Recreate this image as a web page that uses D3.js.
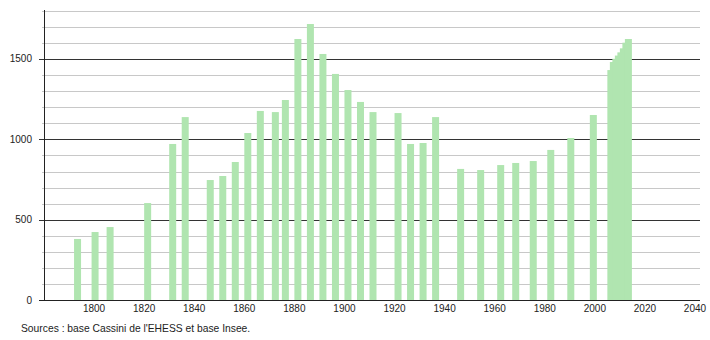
<!DOCTYPE html>
<html>
<head>
<meta charset="utf-8">
<script src="https://cdn.jsdelivr.net/npm/d3@7"></script>
<style>
  html, body { margin: 0; padding: 0; background: #fff; }
  svg { display: block; }
  text { font-family: "Liberation Sans", Arial, sans-serif; }
</style>
</head>
<body>
<svg id="chart" width="710" height="340"></svg>
<script>
const years = [1793, 1800, 1806, 1821, 1831, 1836, 1846, 1851, 1856, 1861, 1866, 1872, 1876,
  1881, 1886, 1891, 1896, 1901, 1906, 1911, 1921, 1926, 1931, 1936, 1946, 1954, 1962, 1968,
  1975, 1982, 1990, 1999, 2006, 2007, 2008, 2009, 2010, 2011, 2012, 2013];
const population = [381, 424, 455, 604, 971, 1138, 747, 772, 859, 1039, 1176, 1169, 1244,
  1623, 1716, 1530, 1406, 1306, 1232, 1169, 1163, 971, 977, 1138, 816, 809, 840, 853,
  865, 934, 1008, 1151, 1430, 1480, 1500, 1520, 1540, 1565, 1600, 1623];
const xTicks = [1800, 1820, 1840, 1860, 1880, 1900, 1920, 1940, 1960, 1980, 2000, 2020, 2040];
const yTicks = [0, 500, 1000, 1500];
const yGrid = d3.range(100, 1801, 100);
const sourceText = "Sources : base Cassini de l'EHESS et base Insee.";

const svg = d3.select("#chart");
const x = d3.scaleLinear().domain([1780, 2042]).range([44, 700]);
const y = d3.scaleLinear().domain([0, 1800]).range([300.3, 10.5]);

// grid lines
svg.append("g").selectAll("line").data(yGrid).join("line")
  .attr("x1", d => d % 500 === 0 ? 39 : 42)
  .attr("x2", 700)
  .attr("y1", d => Math.round(y(d)) + 0.5)
  .attr("y2", d => Math.round(y(d)) + 0.5)
  .attr("stroke", d => d % 500 === 0 ? "#333" : "#c8c8c8")
  .attr("stroke-width", 1);

// bars
const barW = 7;
svg.append("g").selectAll("rect").data(years).join("rect")
  .attr("x", (d) => x(d) - 2.5)
  .attr("width", barW)
  .attr("y", (d, i) => y(population[i]))
  .attr("height", (d, i) => y(0) - y(population[i]))
  .attr("fill", "#b0e5b0");

// axes lines
svg.append("line").attr("x1", 44.5).attr("x2", 44.5).attr("y1", 10).attr("y2", 300)
  .attr("stroke", "#222").attr("stroke-width", 1);
svg.append("line").attr("x1", 39).attr("x2", 700).attr("y1", 300.5).attr("y2", 300.5)
  .attr("stroke", "#222").attr("stroke-width", 1);

// y labels
svg.append("g").selectAll("text").data(yTicks).join("text")
  .attr("x", 32)
  .attr("y", d => y(d) + 3.5)
  .attr("text-anchor", "end")
  .attr("font-size", 10)
  .attr("fill", "#222")
  .text(d => d);

// x labels
svg.append("g").selectAll("text").data(xTicks).join("text")
  .attr("x", d => x(d))
  .attr("y", 312)
  .attr("text-anchor", "middle")
  .attr("font-size", 10)
  .attr("fill", "#222")
  .text(d => d);

svg.append("text")
  .attr("x", 21).attr("y", 332)
  .attr("font-size", 10.3)
  .attr("fill", "#222")
  .text(sourceText);
</script>
</body>
</html>
